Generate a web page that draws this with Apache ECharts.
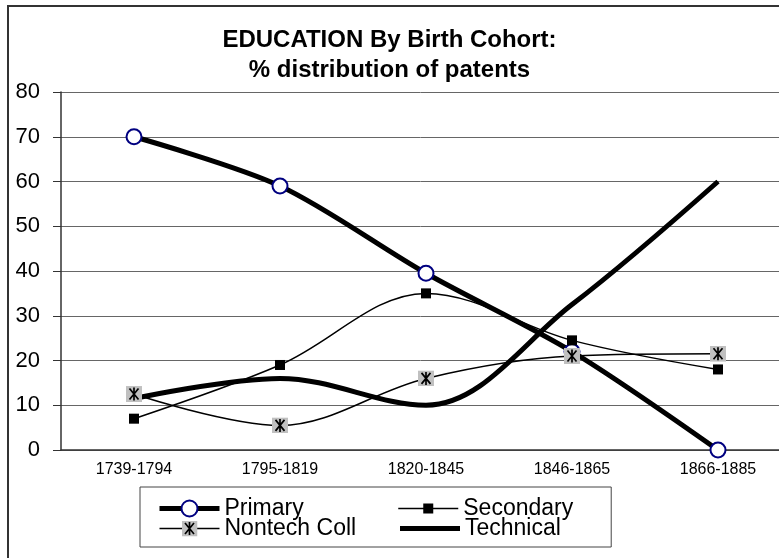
<!DOCTYPE html>
<html>
<head>
<meta charset="utf-8">
<script src="https://cdn.jsdelivr.net/npm/echarts@6/dist/echarts.min.js"></script>
<style>
  html, body { margin: 0; padding: 0; background: #fff; }
  #main { width: 779px; height: 558px; }
</style>
</head>
<body>
<div id="main"></div>
<script>
var myChart = echarts.init(document.getElementById('main'));

// data
var cohorts = ['1739-1794', '1795-1819', '1820-1845', '1846-1865', '1866-1885'];
var primary = [70, 59, 39.5, 22, 0];
var secondary = [7, 19, 35, 24.5, 18];
var nontechColl = [12.5, 5.5, 16, 21, 21.5];
var technical = [11.5, 16, 10, 32.5, 60];
var yTicks = [0, 10, 20, 30, 40, 50, 60, 70, 80];

var font = 'Arial, "Liberation Sans", sans-serif';

// marker pictures
var squareSvg = '<svg xmlns="http://www.w3.org/2000/svg" width="16" height="16" viewBox="0 0 16 16">' +
	'<rect x="3" y="3" width="10" height="10" fill="#000"/></svg>';
var starSvg = '<svg xmlns="http://www.w3.org/2000/svg" width="16" height="16" viewBox="0 0 16 16">' +
	'<rect x="0" y="0" width="16" height="16" fill="#c0c0c0"/>' +
	'<path d="M8 1.5V14.5M3.5 2.5L12.5 13.5M12.5 2.5L3.5 13.5" stroke="#000" stroke-width="1.7" fill="none"/></svg>';
var squareSymbol = 'image://data:image/svg+xml;charset=utf-8,' + encodeURIComponent(squareSvg);
var starSymbol = 'image://data:image/svg+xml;charset=utf-8,' + encodeURIComponent(starSvg);

var option = {
	animation: false,
	backgroundColor: '#fff',
	title: {
		text: 'EDUCATION By Birth Cohort:\n% distribution of patents',
		left: 'center',
		top: 20,
		textStyle: {
			fontFamily: font,
			fontWeight: 'bold',
			fontSize: 24,
			lineHeight: 30,
			color: '#000'
		}
	},
	graphic: [{
		type: 'rect',
		shape: { x: 8, y: 6, width: 820, height: 620 },
		style: { fill: 'none', stroke: '#333', lineWidth: 2 },
		silent: true
	}],
	legend: {
		left: 140,
		top: 487,
		width: 430,
		orient: 'horizontal',
		padding: [10, 38, 7, 17],
		itemGap: -3,
		itemWidth: 60,
		itemHeight: 20,
		borderColor: '#444',
		borderWidth: 1,
		textStyle: {
			fontFamily: font,
			fontSize: 23,
			lineHeight: 20,
			color: '#000'
		},
		data: [
			{ name: 'Primary', textStyle: { width: 176 }, lineStyle: { width: 5 } },
			{ name: 'Secondary', lineStyle: { width: 1.5 } },
			{ name: 'Nontech Coll', textStyle: { width: 176 }, lineStyle: { width: 1.5 } },
			{ name: 'Technical', itemStyle: { opacity: 0 }, lineStyle: { width: 5 } }
		]
	},
	grid: {
		left: 61,
		width: 730,
		top: 92,
		bottom: 108,
		outerBoundsMode: 'none'
	},
	xAxis: {
		type: 'category',
		data: cohorts,
		boundaryGap: true,
		axisLine: { lineStyle: { color: '#333', width: 1.5 } },
		axisTick: { length: 5, lineStyle: { color: '#333' } },
		axisLabel: {
			fontFamily: font,
			fontSize: 16,
			color: '#000',
			margin: 12
		}
	},
	yAxis: {
		type: 'value',
		min: yTicks[0],
		max: yTicks[yTicks.length - 1],
		interval: 10,
		axisLine: { show: true, lineStyle: { color: '#333', width: 1.5 } },
		axisTick: { show: true, length: 8, lineStyle: { color: '#333' } },
		axisLabel: {
			fontFamily: font,
			fontSize: 22,
			color: '#000',
			margin: 21
		},
		splitLine: { lineStyle: { color: '#666', width: 1 } }
	},
	series: [{
			name: 'Primary',
			type: 'line',
			data: primary,
			smooth: 0.3,
			symbol: 'circle',
			symbolSize: 15,
			lineStyle: { color: '#000', width: 5 },
			itemStyle: { color: '#fff', borderColor: '#000080', borderWidth: 2 }
		},
		{
			name: 'Secondary',
			type: 'line',
			data: secondary,
			smooth: 0.35,
			symbol: squareSymbol,
			symbolSize: 16,
			lineStyle: { color: '#000', width: 1.5 },
			itemStyle: { color: '#000' }
		},
		{
			name: 'Nontech Coll',
			type: 'line',
			data: nontechColl,
			smooth: 0.35,
			symbol: starSymbol,
			symbolSize: 16,
			lineStyle: { color: '#000', width: 1.5 },
			itemStyle: { color: '#000' }
		},
		{
			name: 'Technical',
			type: 'line',
			data: technical,
			smooth: 0.35,
			symbol: 'none',
			lineStyle: { color: '#000', width: 5 },
			itemStyle: { color: '#000' }
		}
	]
};

myChart.setOption(option);
</script>
</body>
</html>
